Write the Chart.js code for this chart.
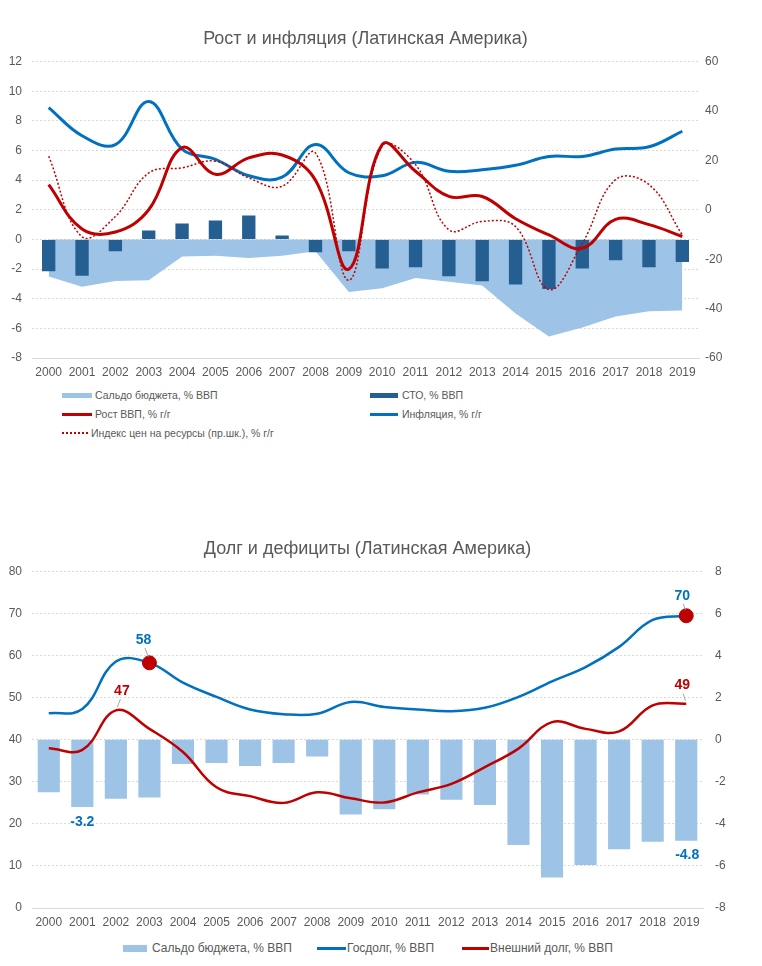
<!DOCTYPE html>
<html lang="ru">
<head>
<meta charset="utf-8">
<title>Латинская Америка</title>
<script src="https://cdn.jsdelivr.net/npm/chart.js@4.4.0/dist/chart.umd.min.js"></script>
<style>
  body { margin: 0; background: #fff; font-family: "Liberation Sans", Arial, sans-serif; }
  #wrap { position: relative; width: 762px; height: 966px; overflow: hidden; }
  canvas { position: absolute; left: 0; }
  .lg { position: absolute; color: #595959; font-size: 10.5px; line-height: 14px; white-space: nowrap; }
  .lg2 { font-size: 12px; line-height: 16px; }
  .mk { position: absolute; }
</style>
</head>
<body>
<div id="wrap">
  <canvas id="growth" width="762" height="388" style="top:0;width:762px;height:388px"></canvas>

  <div class="mk" style="left:62px;top:393px;width:30px;height:5px;background:#9DC3E6"></div>
  <div class="lg" style="left:95px;top:388px">Сальдо бюджета, % ВВП</div>
  <div class="mk" style="left:370px;top:393px;width:28px;height:5px;background:#255E91"></div>
  <div class="lg" style="left:402px;top:388px">СТО, % ВВП</div>

  <div class="mk" style="left:62px;top:413px;width:30px;height:3px;background:#C00000"></div>
  <div class="lg" style="left:95px;top:407px">Рост ВВП, % г/г</div>
  <div class="mk" style="left:370px;top:413px;width:28px;height:3px;background:#0070C0"></div>
  <div class="lg" style="left:402px;top:407px">Инфляция, % г/г</div>

  <div class="mk" style="left:62px;top:432px;width:26px;height:0;border-top:2px dotted #C00000"></div>
  <div class="lg" style="left:91px;top:426px">Индекс цен на ресурсы (пр.шк.), % г/г</div>

  <canvas id="debt" width="762" height="428" style="top:510px;width:762px;height:428px"></canvas>

  <div class="mk" style="left:123px;top:945px;width:24px;height:7px;background:#9DC3E6"></div>
  <div class="lg lg2" style="left:152px;top:940px">Сальдо бюджета, % ВВП</div>
  <div class="mk" style="left:317px;top:947px;width:29px;height:3px;background:#0070C0"></div>
  <div class="lg lg2" style="left:347px;top:940px">Госдолг, % ВВП</div>
  <div class="mk" style="left:462px;top:947px;width:27px;height:3px;background:#C00000"></div>
  <div class="lg lg2" style="left:490px;top:940px">Внешний долг, % ВВП</div>
</div>

<script>
// --- данные ---
const years = ['2000', '2001', '2002', '2003', '2004', '2005', '2006', '2007', '2008', '2009',
               '2010', '2011', '2012', '2013', '2014', '2015', '2016', '2017', '2018', '2019'];

// сальдо бюджета, % ВВП (одно и то же на обоих графиках)
const budgetBalance = [-2.5, -3.2, -2.8, -2.75, -1.15, -1.1, -1.25, -1.1, -0.8, -3.55,
                       -3.3, -2.6, -2.85, -3.1, -5.0, -6.55, -5.95, -5.2, -4.85, -4.8];
// счёт текущих операций, % ВВП
const currentAccount = [-2.15, -2.45, -0.8, 0.6, 1.08, 1.28, 1.62, 0.27, -0.86, -0.8,
                        -1.96, -1.87, -2.48, -2.82, -3.04, -3.34, -1.96, -1.4, -1.87, -1.53];
// рост ВВП, % г/г
const gdpGrowth = [3.7, 0.7, 0.5, 2.0, 6.2, 4.4, 5.5, 5.7, 4.0, -2.0,
                   6.4, 4.6, 2.9, 2.9, 1.4, 0.3, -0.6, 1.35, 1.0, 0.2];
// инфляция, % г/г
const inflation = [8.9, 7.0, 6.4, 9.3, 6.1, 5.4, 4.3, 4.2, 6.4, 4.5,
                   4.3, 5.2, 4.6, 4.7, 5.0, 5.6, 5.6, 6.1, 6.25, 7.3];
// индекс цен на ресурсы (правая шкала), % г/г
const commodityIdx = [21.7, -10.9, -2.7, 14.9, 17, 19.7, 12.9, 9.5, 23, -28.5,
                      25.8, 18.3, -8.1, -4.7, -6.8, -32.3, -13.6, 12.2, 10.2, -10.2];
// госдолг и внешний долг, % ВВП
const govDebt = [46.3, 47.3, 58.6, 58.3, 53.6, 50.2, 47.2, 46.1, 46.2, 49.0,
                 47.8, 47.2, 46.8, 47.6, 50.2, 53.9, 57.3, 62.1, 68.5, 69.5];
const extDebt = [38.0, 37.6, 47.0, 42.6, 37.1, 28.7, 26.6, 25.0, 27.5, 26.1,
                 25.1, 27.5, 29.5, 33.5, 37.9, 44.2, 42.6, 42.0, 48.2, 48.6];

// шкалы
const growthLeftTicks = { min: -8, max: 12, step: 2 };
const growthRightTicks = { min: -60, max: 60, step: 20 };
const debtLeftTicks = { min: 0, max: 80, step: 10 };
const debtRightTicks = { min: -8, max: 8, step: 2 };

const FONT = '"Liberation Sans", Arial, sans-serif';
Chart.defaults.font.family = FONT;
Chart.defaults.font.size = 12;
Chart.defaults.color = '#595959';

const GRID = '#D9D9D9';

function titleOpts(text) {
    return {
        display: true, text: text, fullSize: false, color: '#595959',
        font: { size: 18, weight: 'normal' },
        padding: { top: 28, bottom: 12 }
    };
}

function xScale() {
    return {
        grid: { display: false, drawTicks: false },
        border: { display: true, color: GRID },
        ticks: { padding: 7, maxRotation: 0, autoSkip: false },
        afterFit(s) { s.height = 30; }
    };
}

function leftScale(t, width) {
    return {
        position: 'left', min: t.min, max: t.max,
        ticks: { stepSize: t.step, padding: 10 },
        grid: { color: GRID, drawTicks: false },
        border: { display: false, dash: [2, 2] },
        afterFit(s) { s.width = width; }
    };
}

function rightScale(t, width, pad) {
    return {
        position: 'right', min: t.min, max: t.max,
        ticks: { stepSize: t.step, padding: pad },
        grid: { display: false, drawTicks: false },
        border: { display: false },
        afterFit(s) { s.width = width; }
    };
}

// --- Рост и инфляция ---
new Chart(document.getElementById('growth'), {
    type: 'bar',
    data: {
        labels: years,
        datasets: [
            { type: 'line', label: 'Сальдо бюджета, % ВВП', data: budgetBalance, yAxisID: 'y',
              fill: 'origin', backgroundColor: '#9DC3E6', borderWidth: 0, pointRadius: 0, tension: 0, order: 10 },
            { type: 'bar', label: 'СТО, % ВВП', data: currentAccount, yAxisID: 'y',
              backgroundColor: '#255E91', barPercentage: 0.4, categoryPercentage: 1, order: 5 },
            { type: 'line', label: 'Инфляция, % г/г', data: inflation, yAxisID: 'y',
              borderColor: '#0070C0', borderWidth: 3, pointRadius: 0, tension: 0.4, order: 3 },
            { type: 'line', label: 'Рост ВВП, % г/г', data: gdpGrowth, yAxisID: 'y',
              borderColor: '#C00000', borderWidth: 3, pointRadius: 0, tension: 0.4, order: 2 },
            { type: 'line', label: 'Индекс цен на ресурсы (пр.шк.), % г/г', data: commodityIdx, yAxisID: 'y2',
              borderColor: '#C00000', borderWidth: 1.5, borderDash: [2, 2], pointRadius: 0, tension: 0.4, order: 1 }
        ]
    },
    options: {
        responsive: false, animation: false,
        layout: { padding: 0 },
        plugins: { legend: { display: false }, tooltip: { enabled: false }, title: titleOpts('Рост и инфляция (Латинская Америка)') },
        scales: {
            x: xScale(),
            y: leftScale(growthLeftTicks, 32),
            y2: rightScale(growthRightTicks, 63, 6)
        }
    }
});

// подписи значений на втором графике
const callouts = [
    { ds: 1, i: 3, dx: -6, dy: -23, color: '#0070C0', fmt: v => Math.round(v), marker: true },
    { ds: 1, i: 19, dx: -4, dy: -20, color: '#0070C0', fmt: v => Math.round(v), marker: true },
    { ds: 2, i: 2, dx: 6, dy: -19, color: '#C00000', fmt: v => Math.round(v) },
    { ds: 2, i: 19, dx: -4, dy: -18, color: '#C00000', fmt: v => Math.round(v) },
    { ds: 0, i: 1, dx: 0, dy: 15, color: '#0070C0', fmt: v => v.toFixed(1), bar: true },
    { ds: 0, i: 19, dx: 1, dy: 14, color: '#0070C0', fmt: v => v.toFixed(1), bar: true }
];

const calloutPlugin = {
    id: 'callouts',
    afterDatasetsDraw(chart) {
        const ctx = chart.ctx;
        ctx.save();
        ctx.font = 'bold 14px ' + FONT;
        ctx.textAlign = 'center';
        ctx.textBaseline = 'middle';
        callouts.forEach(c => {
            const el = chart.getDatasetMeta(c.ds).data[c.i];
            const value = chart.data.datasets[c.ds].data[c.i];
            const px = el.x, py = el.y;
            const lx = px + c.dx, ly = py + c.dy;
            if (!c.bar) {
                ctx.strokeStyle = '#A6A6A6';
                ctx.lineWidth = 1;
                ctx.beginPath();
                ctx.moveTo(lx + (px - lx) * 0.25, ly + 8);
                ctx.lineTo(px - (px - lx) * 0.2, py - (c.marker ? 6 : 3));
                ctx.stroke();
            }
            ctx.fillStyle = c.color;
            ctx.fillText(c.fmt(value), lx, ly);
        });
        ctx.restore();
    }
};

const markerIdx = [3, 19];

// --- Долг и дефициты ---
new Chart(document.getElementById('debt'), {
    type: 'bar',
    data: {
        labels: years,
        datasets: [
            { type: 'bar', label: 'Сальдо бюджета, % ВВП', data: budgetBalance, yAxisID: 'y2',
              backgroundColor: '#9DC3E6', barPercentage: 0.66, categoryPercentage: 1, order: 5 },
            { type: 'line', label: 'Госдолг, % ВВП', data: govDebt, yAxisID: 'y',
              borderColor: '#0070C0', borderWidth: 2.5, tension: 0.4, order: 2,
              pointRadius: years.map((_, i) => markerIdx.includes(i) ? 7 : 0),
              pointBackgroundColor: '#C00000', pointBorderColor: '#B00000', pointBorderWidth: 1 },
            { type: 'line', label: 'Внешний долг, % ВВП', data: extDebt, yAxisID: 'y',
              borderColor: '#C00000', borderWidth: 2.5, pointRadius: 0, tension: 0.4, order: 3 }
        ]
    },
    options: {
        responsive: false, animation: false,
        layout: { padding: 0 },
        plugins: { legend: { display: false }, tooltip: { enabled: false }, title: titleOpts('Долг и дефициты (Латинская Америка)') },
        scales: {
            x: xScale(),
            y: leftScale(debtLeftTicks, 32),
            y2: rightScale(debtRightTicks, 59, 12)
        }
    },
    plugins: [calloutPlugin]
});
</script>
</body>
</html>
